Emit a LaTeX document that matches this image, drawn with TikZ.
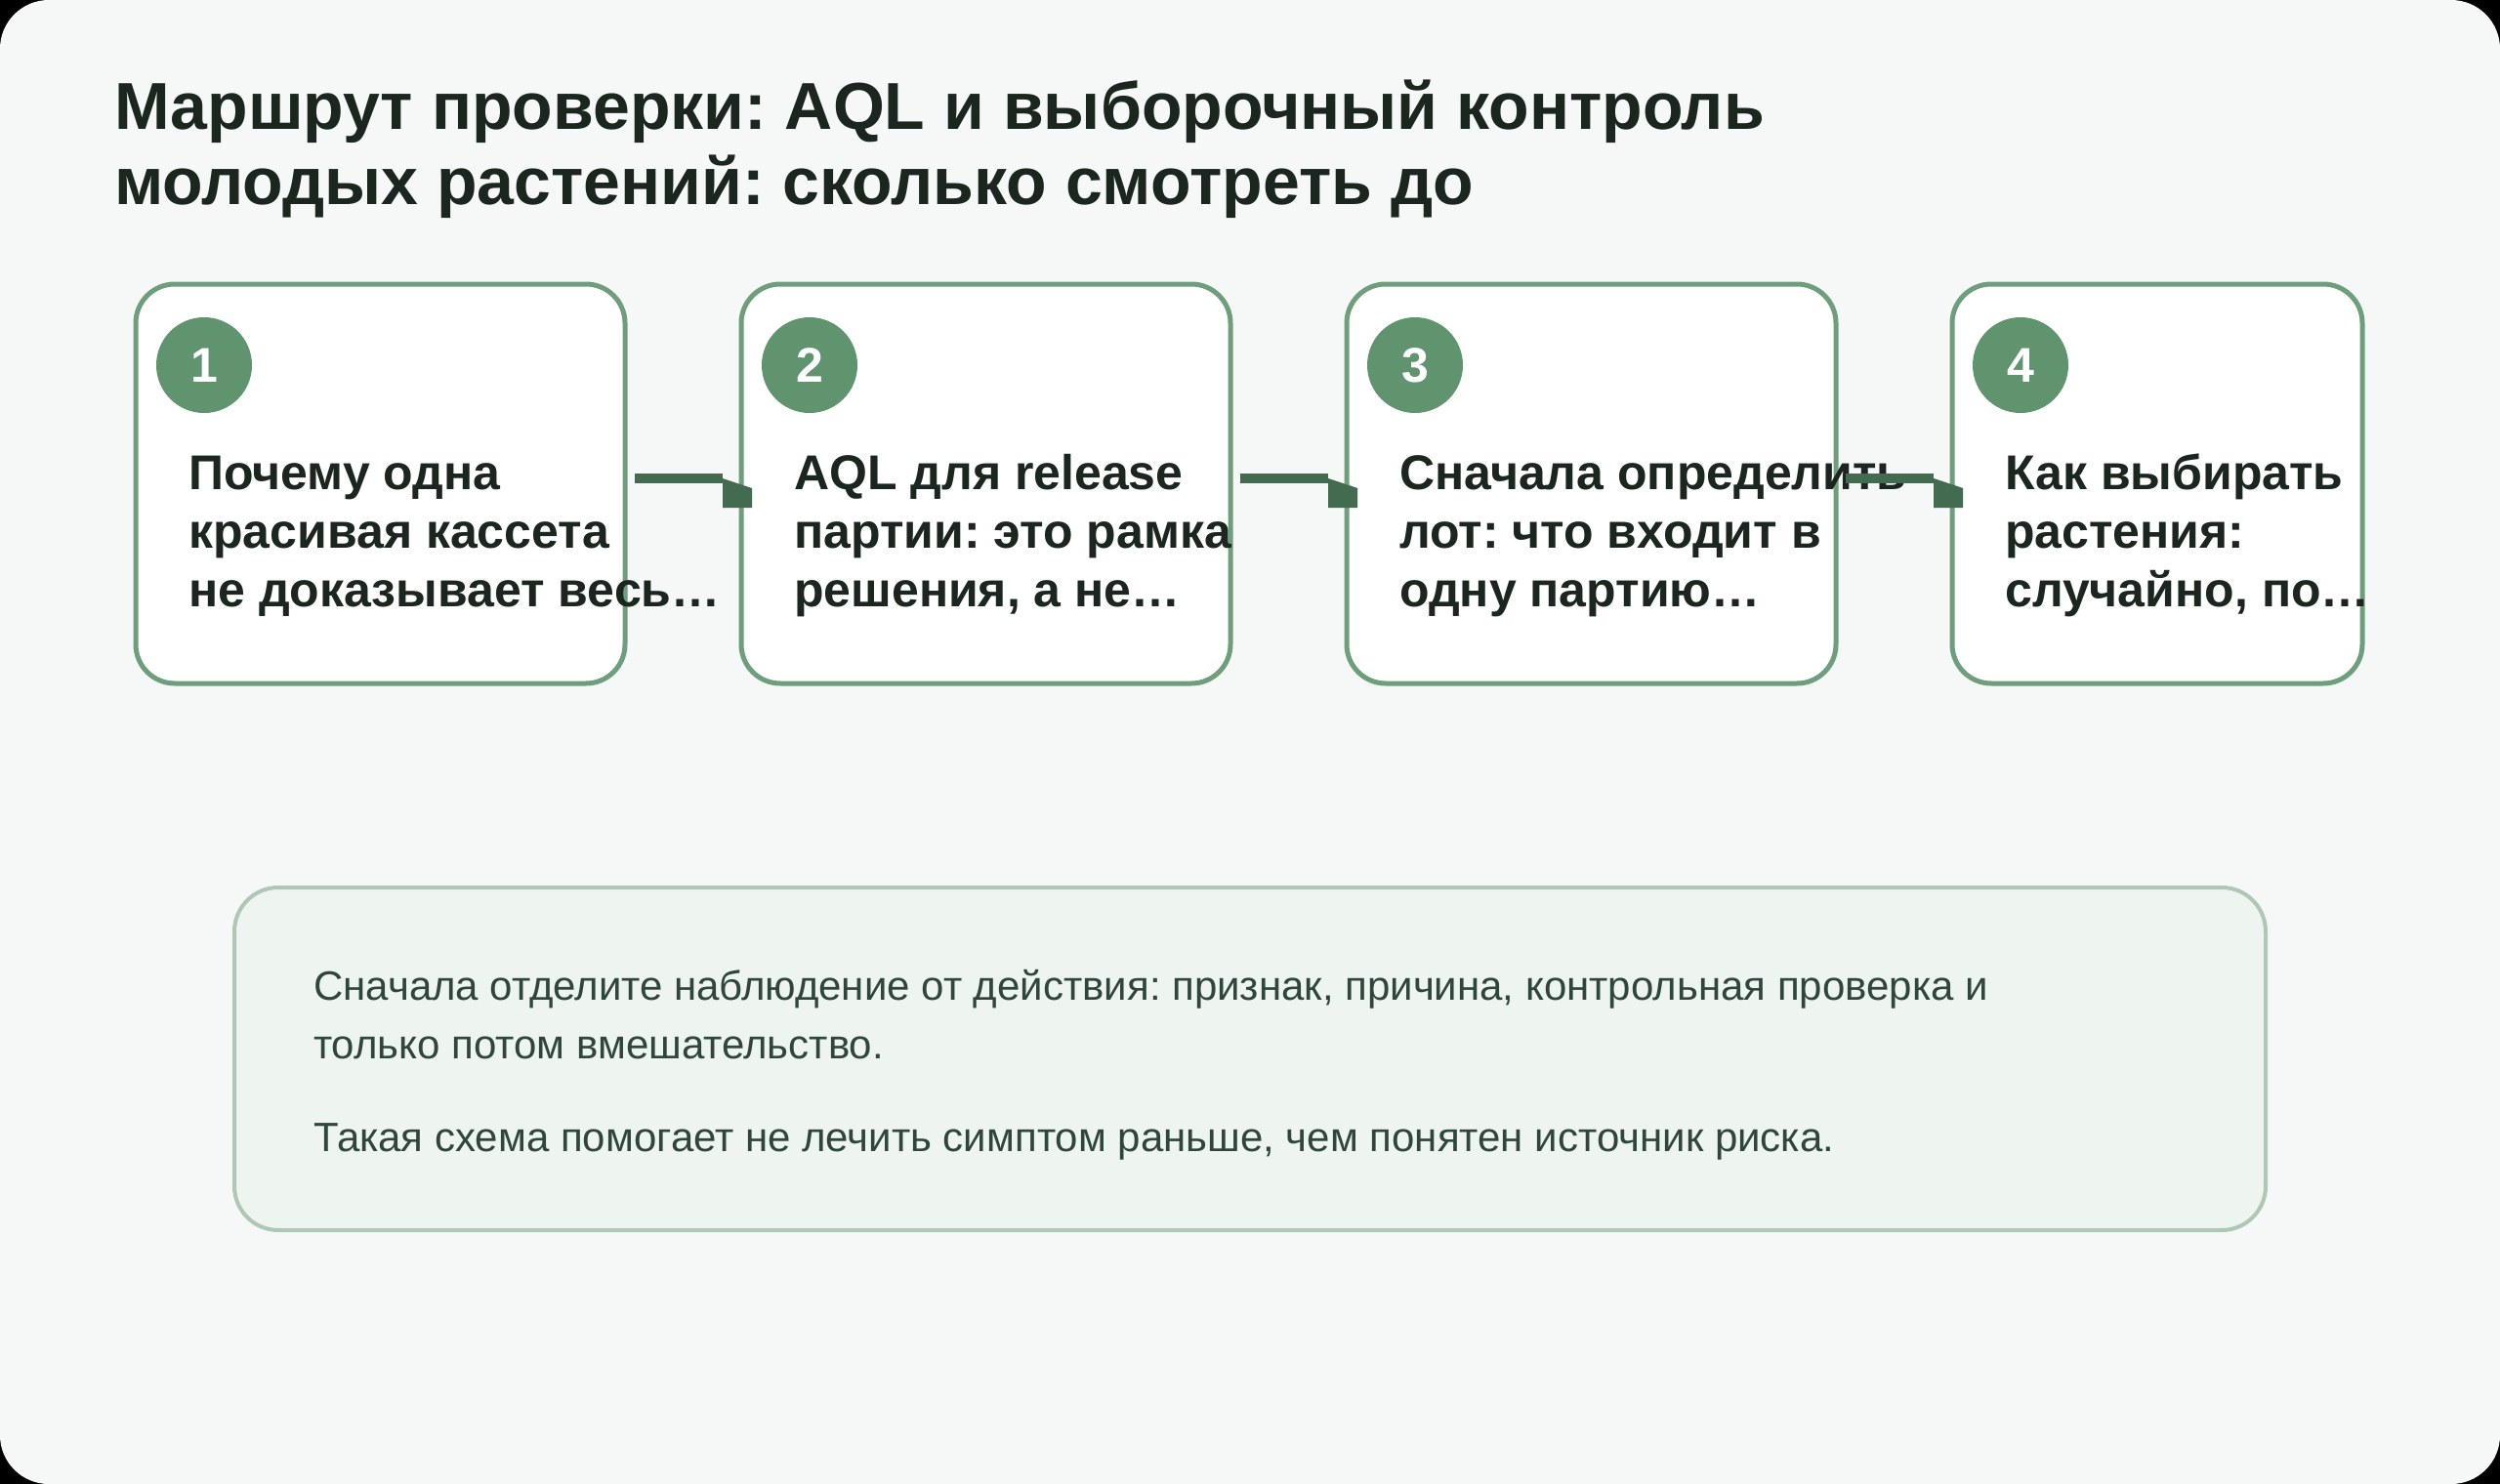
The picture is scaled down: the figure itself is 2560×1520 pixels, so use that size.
\documentclass[tikz,border=0pt]{standalone}
\usepackage{fontspec}
\setmainfont{Liberation Sans}
\frenchspacing
\usetikzlibrary{positioning,calc}

\definecolor{routeBg}{HTML}{F6F8F7}
\definecolor{routeEdge}{HTML}{6E9E7B}
\definecolor{routeDot}{HTML}{5F946F}
\definecolor{routeArrow}{HTML}{436B50}
\definecolor{routeInk}{HTML}{1B261F}
\definecolor{noteFill}{HTML}{EEF4F0}
\definecolor{noteEdge}{HTML}{AEC8B5}
\definecolor{noteInk}{HTML}{2F463A}

\begin{document}
\begin{tikzpicture}[x=1pt, y=-1pt,
  stepbox/.style={draw=routeEdge, line width=5pt, fill=white, rounded corners=40pt,
                  minimum width=501pt, minimum height=409pt, inner sep=0pt, outer sep=0pt},
  stepnum/.style={circle, fill=routeDot, text=white, minimum size=98pt, inner sep=0pt,
                  font=\fontsize{50}{50}\selectfont\bfseries},
  steptext/.style={anchor=base west, align=left, inner sep=0pt, text=routeInk,
                   font=\fontsize{50}{60}\selectfont\bfseries},
  link/.style={draw=routeArrow, line width=10pt},
  notetext/.style={anchor=base west, align=left, inner sep=0pt, text=noteInk,
                   font=\fontsize{42}{60}\selectfont}
]
  \useasboundingbox (0,0) rectangle (2560,1520);
  \fill[black] (0,0) rectangle (2560,1520);
  \fill[routeBg, rounded corners=50pt] (0,0) rectangle (2560,1520);

  % title (anchored on its last line)
  \node[anchor=base west, align=left, inner sep=0pt, text=routeInk,
        font=\fontsize{68}{77}\selectfont\bfseries] (title) at (117,209)
        {Маршрут проверки: AQL и выборочный контроль\\молодых растений: сколько смотреть до};

  % steps
  \node[stepbox, anchor=north west] (s1) at (139,291) {};
  \node[stepbox, right=119pt of s1] (s2) {};
  \node[stepbox, right=119pt of s2] (s3) {};
  \node[stepbox, right=119pt of s3, minimum width=420pt] (s4) {};

  \node[stepnum] (n1) at ($(s1.north west)+(70,83)$) {1};
  \node[stepnum] (n2) at ($(s2.north west)+(70,83)$) {2};
  \node[stepnum] (n3) at ($(s3.north west)+(70,83)$) {3};
  \node[stepnum] (n4) at ($(s4.north west)+(70,83)$) {4};

  \node[steptext] (t1) at ($(s1.north west)+(54,330)$) {Почему одна\\красивая кассета\\не доказывает весь…};
  \node[steptext] (t2) at ($(s2.north west)+(54,330)$) {AQL для release\\партии: это рамка\\решения, а не…};
  \node[steptext] (t3) at ($(s3.north west)+(54,330)$) {Сначала определить\\лот: что входит в\\одну партию…};
  \node[steptext] (t4) at ($(s4.north west)+(54,330)$) {Как выбирать\\растения:\\случайно, по…};

  % connectors
  \foreach \a/\b in {s1/s2, s2/s3, s3/s4}{
    \draw[link] ($(\a.east)+(10,-5.5)$) -- ($(\b.west)+(-19,-5.5)$);
    \fill[routeArrow] ($(\b.west)+(-19,-5.5)$) -- ++(30,10) -- ++(0,20) -- ++(-30,0) -- cycle;
  }

  % note panel
  \node[draw=noteEdge, line width=4pt, fill=noteFill, rounded corners=45pt, anchor=north west,
        minimum width=2080pt, minimum height=351pt, inner sep=0pt, outer sep=0pt] (note) at (240,909) {};
  \node[notetext] (p1) at (321,1084) {Сначала отделите наблюдение от действия: признак, причина, контрольная проверка и\\только потом вмешательство.};
  \node[notetext] (p2) at (321,1179) {Такая схема помогает не лечить симптом раньше, чем понятен источник риска.};
\end{tikzpicture}
\end{document}
